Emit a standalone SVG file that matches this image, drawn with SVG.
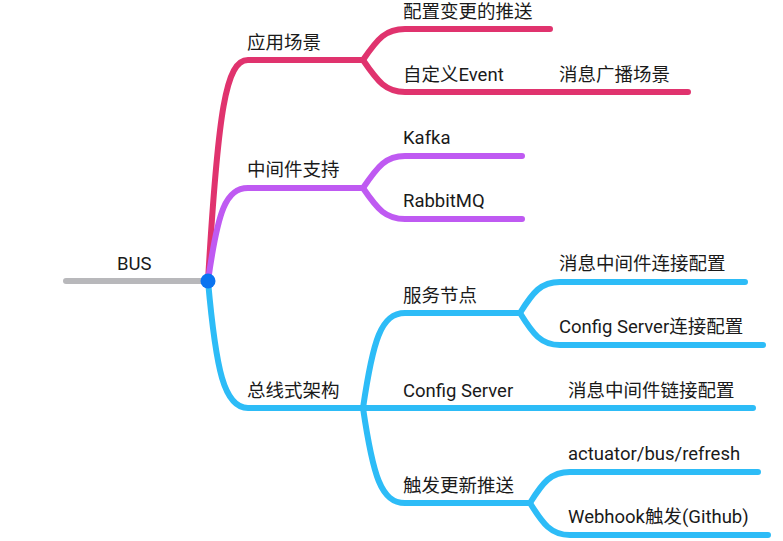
<svg xmlns="http://www.w3.org/2000/svg" width="783" height="541" viewBox="0 0 783 541">
<style>
text{font-family:Roboto,"Noto Sans CJK SC",sans-serif;font-size:18.5px;fill:#1a1a1a}
.l{fill:none;stroke-width:6;stroke-linecap:round;stroke-linejoin:round}
.pk{stroke:#e0336e}
.pu{stroke:#bf5af2}
.bl{stroke:#2dbcf7}
.gr{stroke:#b8b8bb}
</style>
<rect width="783" height="541" fill="#fff"/>
<g id="connectors">
<path class="l gr" d="M66,281 L208,281"/>
<path class="l pk" d="M208,281 C218,110 226,60 248,60 L363,60"/>
<path class="l pk" d="M363,60 C378,38 386,29 405,29 L550,29"/>
<path class="l pk" d="M363,60 C378,82 386,92 405,92 L688,92"/>
<path class="l pu" d="M208,281 C218,210 226,188 248,188 L363,188"/>
<path class="l pu" d="M363,188 C378,166 386,156 405,156 L522,156"/>
<path class="l pu" d="M363,188 C378,210 386,219 405,219 L522,219"/>
<path class="l bl" d="M208,281 C216,370 224,408 248,408 L363,408 L753,408"/>
<path class="l bl" d="M363,408 C373,340 381,313 405,313 L520,313"/>
<path class="l bl" d="M363,408 C373,476 381,503 405,503 L530,503"/>
<path class="l bl" d="M520,313 C533,292 541,282 560,282 L745,282"/>
<path class="l bl" d="M520,313 C533,334 541,345 560,345 L763,345"/>
<path class="l bl" d="M530,503 C543,482 551,472 570,472 L758,472"/>
<path class="l bl" d="M530,503 C543,524 551,535 570,535 L768,535"/>
</g>
<g id="root"><circle cx="208" cy="281" r="7.5" fill="#0a74f0"/><text x="117" y="270">BUS</text></g>
<g id="n-yycj"><text x="247" y="49">应用场景</text></g>
<g id="n-pzbg"><text x="403" y="18">配置变更的推送</text></g>
<g id="n-zdy"><text x="403" y="81">自定义Event</text></g>
<g id="n-xxgb"><text x="559" y="81">消息广播场景</text></g>
<g id="n-zjj"><text x="247" y="176">中间件支持</text></g>
<g id="n-kafka"><text x="403" y="144">Kafka</text></g>
<g id="n-rabbit"><text x="403" y="207">RabbitMQ</text></g>
<g id="n-zxs"><text x="247" y="397">总线式架构</text></g>
<g id="n-fwjd"><text x="403" y="302">服务节点</text></g>
<g id="n-xxlj"><text x="559" y="270">消息中间件连接配置</text></g>
<g id="n-cslj"><text x="559" y="333">Config Server连接配置</text></g>
<g id="n-cs"><text x="403" y="397">Config Server</text></g>
<g id="n-xxlj2"><text x="568" y="397">消息中间件链接配置</text></g>
<g id="n-cfgx"><text x="403" y="492">触发更新推送</text></g>
<g id="n-act"><text x="568" y="460">actuator/bus/refresh</text></g>
<g id="n-wh"><text x="568" y="523">Webhook触发(Github)</text></g>
</svg>
